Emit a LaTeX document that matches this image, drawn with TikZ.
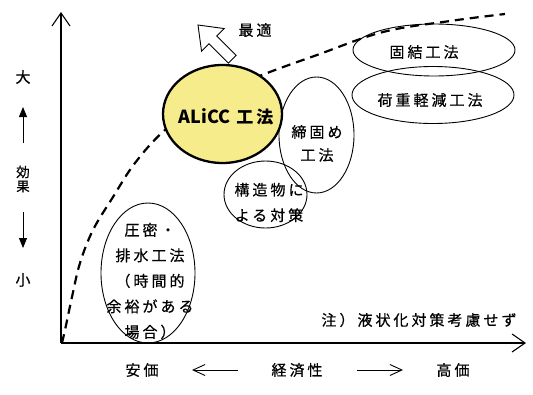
\documentclass[tikz,border=0pt]{standalone}
\usepackage{fontspec}
\setmainfont{Noto Sans CJK JP}[LetterSpace=20, FakeBold=0.5]
\newfontfamily\alfont{Noto Sans CJK JP}[LetterSpace=0]
\newfontfamily\aljp{Noto Sans CJK JP}[LetterSpace=18]
\usetikzlibrary{shapes.geometric,arrows.meta}
\definecolor{alicc}{HTML}{F6EC8C}
\tikzset{
  jp/.style={font=\fontsize{15}{25.5}\selectfont, inner sep=0pt, align=center},
  oval/.style={draw, ellipse, line width=0.9pt, inner sep=0pt},
  axis/.style={line width=1.3pt, -{Straight Barb[length=13pt,width=18pt,line width=1.1pt]}},
  smallarr/.style={line width=1pt, -{Triangle[length=10pt,width=8pt]}},
  botarr/.style={line width=0.9pt, -{Straight Barb[length=12pt,width=11pt,line width=0.9pt]}},
  curve/.style={line width=2.2pt, dash pattern=on 9pt off 6pt},
}
\begin{document}
\begin{tikzpicture}[x=1pt,y=-1pt]
\useasboundingbox (0,0) rectangle (533,394);
% axes
\coordinate (O) at (61,343);
\coordinate (ytop) at (61,12);
\coordinate (xend) at (526,343);
% dashed curve
\draw[curve] plot[smooth, tension=0.6] coordinates {(62,343) (65,330) (72,297) (80,263) (93,230) (113,197) (135,163) (165,130) (210,97) (262,75) (317,55) (383,32) (450,21) (505,14)};
\draw[axis] (O) -- (ytop);
\draw[axis] (O) -- (xend);
% ellipses
\node[oval, minimum width=94pt, minimum height=140pt] (ea) at (148,273) {};
\node[oval, minimum width=162pt, minimum height=52pt] (ek) at (434,50) {};
\node[oval, minimum width=162pt, minimum height=57pt] (ef) at (433,95) {};
\node[oval, minimum width=75pt, minimum height=116pt] (es) at (316.5,135) {};
\node[oval, minimum width=83pt, minimum height=67pt] (eb) at (265.5,194.5) {};
\node[oval, fill=alicc, line width=2.3pt, minimum width=119pt, minimum height=98pt] (al) at (222.5,114) {};
% texts
\node[inner sep=0pt] (tal) at (226,117) {\fontsize{18}{20}\selectfont\bfseries\alfont ALiCC\hspace{6pt}\aljp\fontsize{17}{20}\selectfont\bfseries 工法};
\node[jp] (ta) at (150,281) {圧密・\\排水工法\\（時間的\\余裕がある\\場合）};
\node[jp] (tk) at (424,52) {固結工法};
\node[jp] (tf) at (430,100) {荷重軽減工法};
\node[jp, font=\fontsize{15}{23}\selectfont] (ts) at (317,143.5) {締固め\\工法};
\node[jp] (tb) at (269,202.5) {構造物に\\よる対策};
\node[jp] (note) at (419,320) {注）液状化対策考慮せず};
% optimum arrow
\draw[line width=0.9pt, fill=white] (236.18,55.40) -- (216.74,35.96) -- (224.16,28.54) -- (198,25) -- (201.54,51.16) -- (208.96,43.74) -- (228.40,63.18) -- cycle;
\node[jp] (opt) at (255,30) {最適};
% left labels
\node[jp] (big) at (23,77) {大};
\node[jp, font=\fontsize{13.5}{15}\selectfont] (k1) at (23,172) {効};
\node[jp, font=\fontsize{13.5}{15}\selectfont] (k2) at (23,186.5) {果};
\node[jp] (small) at (23,280) {小};
\coordinate (ua) at (23,143);
\coordinate (ub) at (23,107);
\coordinate (da) at (23,212);
\coordinate (db) at (23,248);
\draw[smallarr] (ua) -- (ub);
\draw[smallarr] (da) -- (db);
% bottom labels
\node[jp] (cheap) at (142,370) {安価};
\node[jp] (econ) at (297,370) {経済性};
\node[jp] (exp) at (453,370) {高価};
\coordinate (la) at (238,370);
\coordinate (lb) at (192,370);
\coordinate (ra) at (357,370);
\coordinate (rb) at (403,370);
\draw[botarr] (la) -- (lb);
\draw[botarr] (ra) -- (rb);
\end{tikzpicture}
\end{document}
